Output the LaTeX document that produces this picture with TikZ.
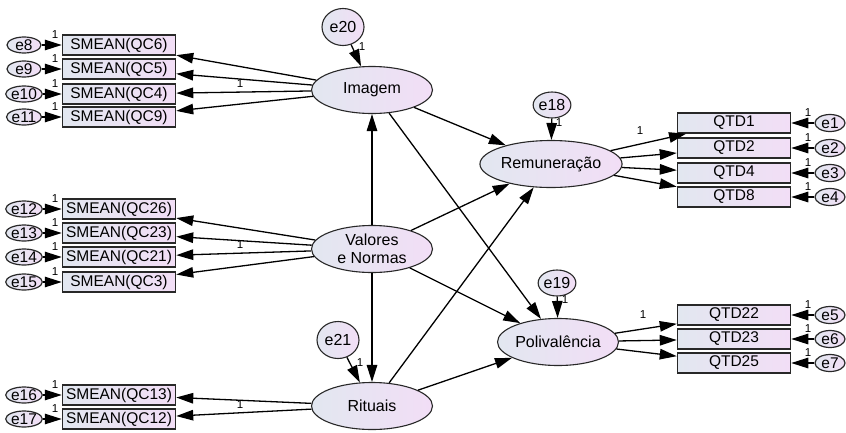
\documentclass[tikz,border=0pt]{standalone}
\usepackage{fontspec}
\setmainfont{Liberation Sans}
\usetikzlibrary{arrows.meta,shapes.geometric}
\definecolor{gradL}{RGB}{226,231,240}
\definecolor{gradR}{RGB}{242,222,246}
\definecolor{edge}{RGB}{40,40,40}
\begin{document}
\begin{tikzpicture}[x=1pt,y=-1pt,
  obs/.style={draw=edge, line width=1.5pt, left color=gradL, right color=gradR,
    minimum width=113pt, minimum height=20pt, inner sep=0pt,
    font=\fontsize{15.5}{16}\selectfont},
  lat/.style={ellipse, draw=edge, line width=1.1pt, left color=gradL, right color=gradR,
    minimum width=121pt, minimum height=47pt, inner sep=0pt,
    font=\fontsize{16}{18}\selectfont, align=center},
  errL/.style={ellipse, draw=edge, line width=1.2pt, left color=gradL, right color=gradR,
    minimum width=34pt, minimum height=16pt, inner sep=0pt,
    font=\fontsize{15.5}{15}\selectfont},
  errR/.style={errL, minimum width=30pt, minimum height=17pt},
  errC/.style={ellipse, draw=edge, line width=1.1pt, left color=gradL, right color=gradR,
    minimum width=42pt, minimum height=37pt, inner sep=0pt,
    font=\fontsize{16}{16}\selectfont},
  errS/.style={errC, minimum width=34pt, minimum height=26pt},
  arr/.style={-{Triangle[length=17pt,width=10.5pt]}, line width=1.3pt, draw=black},
  one/.style={font=\fontsize{11.5}{11}\selectfont, inner sep=0pt}
]
\useasboundingbox (0,0) rectangle (846,432);

% latent variables
\node[lat] (img) at (372,90) {Imagem};
\node[lat] (val) at (372,249) {Valores\\e Normas};
\node[lat] (rit) at (372,406) {Rituais};
\node[lat] (rem) at (551,164) {Remuneração};
\node[lat] (pol) at (558,342) {Polivalência};

% structural disturbances
\node[errC] (e20) at (343,27) {e20};
\node[errC] (e21) at (338,340) {e21};
\node[errS] (e18) at (552,105) {e18};
\node[errS] (e19) at (557,283) {e19};

% left observed
\node[obs] (qc6)  at (119,45)  {SMEAN(QC6)};
\node[obs] (qc5)  at (119,69)  {SMEAN(QC5)};
\node[obs] (qc4)  at (119,94)  {SMEAN(QC4)};
\node[obs] (qc9)  at (119,117) {SMEAN(QC9)};
\node[obs] (qc26) at (119,209) {SMEAN(QC26)};
\node[obs] (qc23) at (119,233) {SMEAN(QC23)};
\node[obs] (qc21) at (119,257) {SMEAN(QC21)};
\node[obs] (qc3)  at (119,282) {SMEAN(QC3)};
\node[obs] (qc13) at (119,395) {SMEAN(QC13)};
\node[obs] (qc12) at (119,419) {SMEAN(QC12)};

\node[errL] (e8)  at (24,45)  {e8};
\node[errL] (e9)  at (24,69)  {e9};
\node[errL] (e10) at (24,94)  {e10};
\node[errL] (e11) at (24,117) {e11};
\node[errL] (e12) at (24,209) {e12};
\node[errL] (e13) at (24,233) {e13};
\node[errL] (e14) at (24,257) {e14};
\node[errL] (e15) at (24,282) {e15};
\node[errL] (e16) at (24,395) {e16};
\node[errL] (e17) at (24,419) {e17};

% right observed
\node[obs] (q1)  at (734,123) {QTD1};
\node[obs] (q2)  at (734,148) {QTD2};
\node[obs] (q4)  at (734,173) {QTD4};
\node[obs] (q8)  at (734,197) {QTD8};
\node[obs] (q22) at (734,315) {QTD22};
\node[obs] (q23) at (734,339) {QTD23};
\node[obs] (q25) at (734,363) {QTD25};

\node[errR] (e1) at (830,123) {e1};
\node[errR] (e2) at (830,148) {e2};
\node[errR] (e3) at (830,173) {e3};
\node[errR] (e4) at (830,197) {e4};
\node[errR] (e5) at (830,315) {e5};
\node[errR] (e6) at (830,339) {e6};
\node[errR] (e7) at (830,363) {e7};

% loadings left
\foreach \b in {qc6,qc5,qc4,qc9} \draw[arr] (img) -- (\b);
\foreach \b in {qc26,qc23,qc21,qc3} \draw[arr] (val) -- (\b);
\foreach \b in {qc13,qc12} \draw[arr] (rit) -- (\b);
% loadings right
\foreach \b in {q1,q2,q4,q8} \draw[arr] (rem) -- (\b);
\foreach \b in {q22,q23,q25} \draw[arr] (pol) -- (\b);

% error arrows
\foreach \e/\b in {e8/qc6,e9/qc5,e10/qc4,e11/qc9,e12/qc26,e13/qc23,e14/qc21,e15/qc3,e16/qc13,e17/qc12,
  e1/q1,e2/q2,e3/q4,e4/q8,e5/q22,e6/q23,e7/q25}
  \draw[arr] (\e) -- (\b);

% structural
\draw[arr] (val) -- (img);
\draw[arr] (val) -- (rit);
\draw[arr] (img) -- (rem);
\draw[arr] (img) -- (pol);
\draw[arr] (val) -- (rem);
\draw[arr] (val) -- (pol);
\draw[arr] (rit) -- (rem);
\draw[arr] (rit) -- (pol);
\draw[arr] (e20) -- (img);
\draw[arr] (e21) -- (rit);
\draw[arr] (e18) -- (rem);
\draw[arr] (e19) -- (pol);

% "1" labels
\foreach \y in {35,59,84,107,199,223,247,272,385,409}
  \node[one] (l\y) at (55,\y) {1};
\foreach \y in {113,138,163,187,305,329,353}
  \node[one] (r\y) at (808,\y) {1};
\node[one] (la) at (240,84) {1};
\node[one] (lb) at (240,245) {1};
\node[one] (lc) at (240,405) {1};
\node[one] (ra) at (640,131) {1};
\node[one] (rb) at (643,315) {1};
\node[one] (s20) at (362,47) {1};
\node[one] (s21) at (360,363) {1};
\node[one] (s18) at (559,123) {1};
\node[one] (s19) at (565,300) {1};
\end{tikzpicture}
\end{document}
